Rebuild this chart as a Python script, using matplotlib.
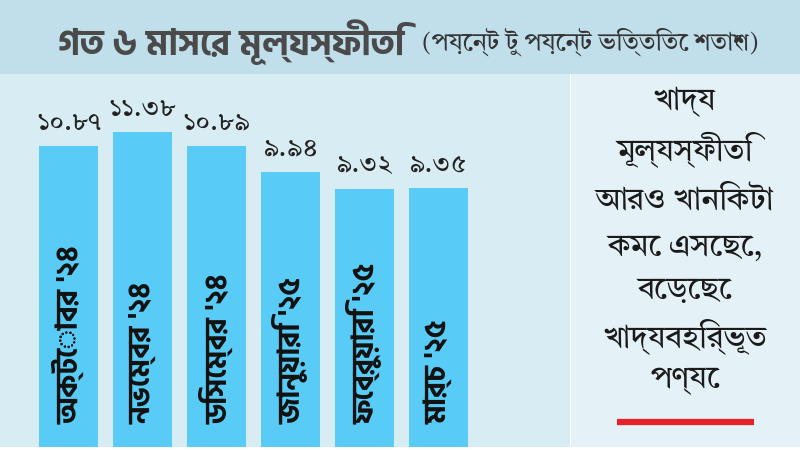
import matplotlib
matplotlib.use("Agg")
import matplotlib.pyplot as plt
from matplotlib import font_manager
from matplotlib.patches import Rectangle

# ---------------- data ----------------
months = ["অক্টোবর '২৪", "নভেম্বর '২৪", "ডিসেম্বর '২৪", "জানুয়ারি '২৫", "ফেব্রুয়ারি '২৫", "মার্চ '২৫"]
values = [10.87, 11.38, 10.89, 9.94, 9.32, 9.35]
value_labels = ["১০.৮৭", "১১.৩৮", "১০.৮৯", "৯.৯৪", "৯.৩২", "৯.৩৫"]
title_main = "গত ৬ মাসের মূল্যস্ফীতি"
title_sub = "(পয়েন্ট টু পয়েন্ট ভিত্তিতে শতাংশ)"
note_lines = ["খাদ্য", "মূল্যস্ফীতি", "আরও খানিকটা", "কমে এসেছে,", "বেড়েছে", "খাদ্যবহির্ভূত", "পণ্যে"]

# ---------------- fonts ----------------
installed = {f.name for f in font_manager.fontManager.ttflist}

def pick(*names):
    for n in names:
        if n in installed:
            return n
    return "DejaVu Sans"

BOLD_FONT = [pick("Hind Siliguri", "Noto Sans Bengali", "FreeSans"), "DejaVu Sans"]
REG_FONT = [pick("Tiro Bangla", "Noto Serif Bengali", "Hind Siliguri", "FreeSerif"), "DejaVu Sans"]
plt.rcParams['font.family'] = REG_FONT

BANNER = "#c1dfea"
LEFT_BG = "#d8ecf3"
RIGHT_BG = "#e4f1f6"
BAR = "#58ccf6"

W, H = 800, 450
fig = plt.figure(figsize=(8, 4.5), dpi=100)
fig.patch.set_facecolor("white")

def fx(px):
    return px / W

def fy(py):
    return 1 - py / H

# banner
fig.add_artist(Rectangle((0, fy(74)), 1, 74 / H, transform=fig.transFigure,
                         facecolor=BANNER, edgecolor="none", zorder=0))
# right panel
fig.add_artist(Rectangle((fx(571), fy(447)), 1 - fx(571), (447 - 74) / H,
                         transform=fig.transFigure, facecolor=RIGHT_BG,
                         edgecolor="none", zorder=0))

# bar chart axes (left panel)
ax = fig.add_axes([0, fy(447), fx(570), (447 - 74) / H])
ax.set_facecolor(LEFT_BG)
for s in ax.spines.values():
    s.set_visible(False)
ax.set_xticks([])
ax.set_yticks([])

x = list(range(len(values)))
ax.bar(x, values, width=0.8, color=BAR, edgecolor="none", zorder=2)
ax.set_xlim(-0.926, 6.777)
ax.set_ylim(0, 13.48)

val_texts = []
for xi, v, lab in zip(x, values, value_labels):
    val_texts.append(ax.text(xi, v + 0.36, lab, ha="center", va="bottom", fontsize=18,
                             color="#222222", zorder=3, family=REG_FONT))

month_texts = []
for xi, m in zip(x, months):
    month_texts.append(ax.text(xi, 0.83, m, rotation=90, ha="center", va="bottom",
                               fontsize=22, fontweight="bold", color="#111111",
                               zorder=3, family=BOLD_FONT))

# titles
t_main = fig.text(fx(58), fy(42), title_main, ha="left", va="center", fontsize=26,
                  fontweight="bold", color="#4a4a4a", family=BOLD_FONT)
t_sub = fig.text(fx(422), fy(42), title_sub, ha="left", va="center", fontsize=16,
                 color="#333333", family=REG_FONT)

# note text in right panel
ys = [102, 150, 200, 247, 290, 337, 380]
note_texts = []
for yy, line in zip(ys, note_lines):
    note_texts.append(fig.text(fx(685), fy(yy), line, ha="center", va="center",
                               fontsize=18, color="#1a1a1a", family=REG_FONT))

# red rule
fig.add_artist(plt.Line2D([fx(617), fx(754)], [fy(422), fy(422)],
                          transform=fig.transFigure, color="#e8202a",
                          linewidth=4.5, solid_capstyle="butt"))

# ---- fit font sizes to the reference text extents ----
fig.canvas.draw()
r = fig.canvas.get_renderer()

def scale_group(texts, ref_text, target, use_height=False):
    bb = ref_text.get_window_extent(r)
    size = bb.height if use_height else bb.width
    if size > 0:
        f = target / size
        for t in texts:
            t.set_fontsize(t.get_fontsize() * f)

scale_group([t_main], t_main, 346)
scale_group([t_sub], t_sub, 338)
scale_group(val_texts, val_texts[0], 65)
scale_group(note_texts, note_texts[2], 178)
fig.canvas.draw()
# month labels: longest label should span ~175 px
longest = max(month_texts, key=lambda t: t.get_window_extent(r).height)
scale_group(month_texts, longest, 178, use_height=True)

fig.savefig("out.png", dpi=100)
